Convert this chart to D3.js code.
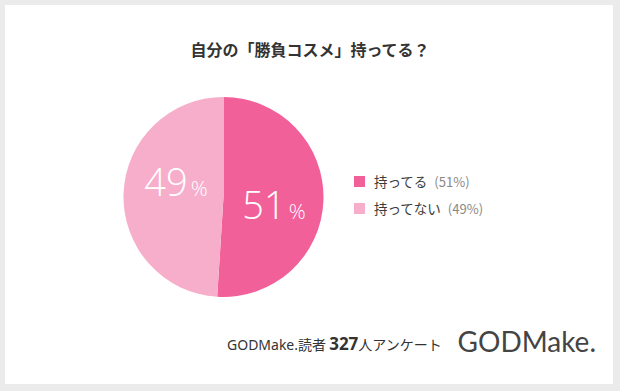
<!DOCTYPE html>
<html><head><meta charset="utf-8">
<script src="https://cdn.jsdelivr.net/npm/d3@7"></script>
<style>
html,body{margin:0;padding:0;background:#ebebeb;}
svg{display:block;}
</style></head>
<body>
<svg id="c" width="620" height="391"></svg>
<script>
const title = "自分の「勝負コスメ」持ってる？";
const categories = ["持ってる", "持ってない"];
const values = [51, 49];
const colors = ["#f2609a", "#f7aecb"];
const footerPrefix = "GODMake.";
const footerMid = "読者 ";
const respondents = "327";
const footerSuffix = "人アンケート";
const logo = "GODMake.";

const svg = d3.select("#c");
const font = "'Noto Sans CJK JP','Noto Sans',sans-serif";
svg.append("rect").attr("x",5).attr("y",5).attr("width",608).attr("height",379).attr("fill","#fff");

svg.append("text").attr("x",310).attr("y",56).attr("text-anchor","middle")
  .attr("font-family",font).attr("font-weight","bold").attr("font-size",16).attr("fill","#333")
  .text(title);

const cx=223.5, cy=197, r=100;
const pie = d3.pie().sort(null).value(d=>d);
const arcs = pie(values);
const arc = d3.arc().innerRadius(0).outerRadius(r);
const g = svg.append("g").attr("transform",`translate(${cx},${cy})`);
g.selectAll("path").data(arcs).enter().append("path")
  .attr("d",arc).attr("fill",(d,i)=>colors[i]);

const labelPos = [[274,219],[176,196]];
arcs.forEach((a,i)=>{
  const t = svg.append("text").attr("x",labelPos[i][0]).attr("y",labelPos[i][1])
    .attr("text-anchor","middle").attr("fill","#fff").attr("font-family","'Open Sans','Noto Sans',sans-serif")
    .attr("font-weight",300);
  t.append("tspan").attr("font-size",38).text(values[i]);
  t.append("tspan").attr("font-size",21).attr("dx",3).text("%");
});

const leg = svg.append("g");
categories.forEach((c,i)=>{
  const y = 176 + i*27;
  leg.append("rect").attr("x",354).attr("y",y).attr("width",11).attr("height",11).attr("fill",colors[i]);
  const t = leg.append("text").attr("x",374).attr("y",y+11).attr("font-family",font).attr("font-size",13.5);
  t.append("tspan").attr("fill","#3a3a3a").text(c);
  t.append("tspan").attr("fill","#888").attr("font-size",13).attr("dx",7).text(`(${values[i]}%)`);
});

const f = svg.append("text").attr("x",227).attr("y",350).attr("font-family",font).attr("fill","#333");
f.append("tspan").attr("font-size",14).attr("font-family","'Noto Sans',sans-serif").text(footerPrefix);
f.append("tspan").attr("font-size",14).text(footerMid);
f.append("tspan").attr("font-size",17).attr("font-weight","bold").attr("font-family","'Noto Sans',sans-serif").text(respondents);
f.append("tspan").attr("font-size",14).text(footerSuffix);

svg.append("text").attr("x",596).attr("y",352).attr("text-anchor","end")
  .attr("font-family","Lato,'Open Sans',sans-serif").attr("font-size",28).attr("fill","#444")
  .text(logo);
</script>
</body></html>
